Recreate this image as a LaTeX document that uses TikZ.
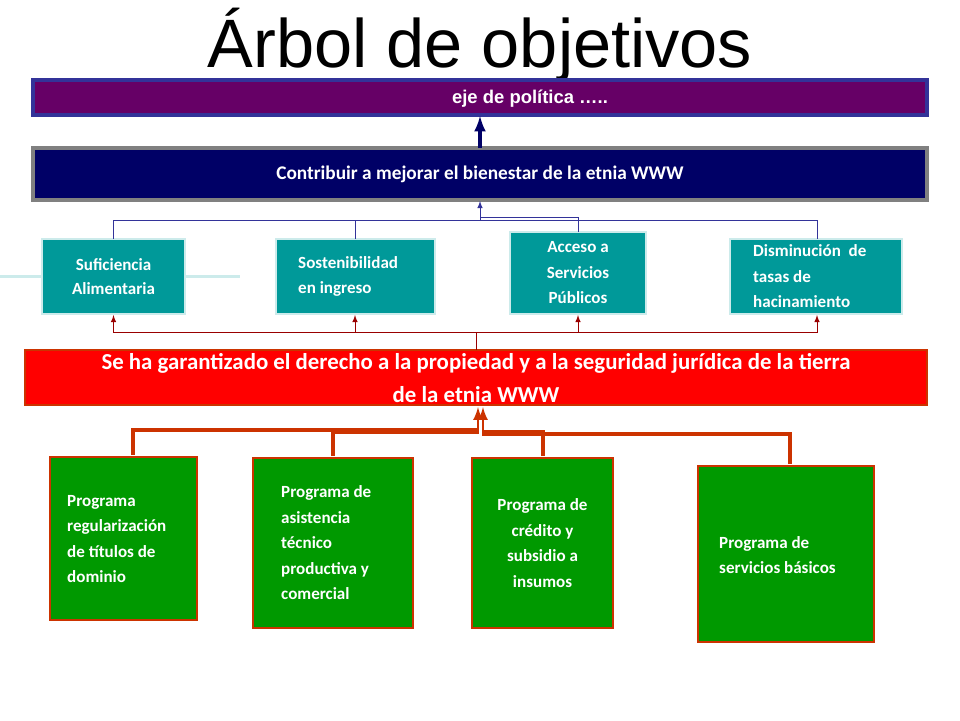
\documentclass[tikz,border=0pt]{standalone}
\usepackage{fontspec}
\setmainfont{Carlito}
\newfontfamily\titlefont{Liberation Sans}
\usetikzlibrary{arrows,positioning,calc}
\definecolor{ejecolor}{HTML}{660066}
\definecolor{fincolor}{HTML}{000066}
\definecolor{medcolor}{HTML}{009999}
\definecolor{propcolor}{HTML}{FF0000}
\definecolor{progcolor}{HTML}{009900}
\definecolor{rojoborde}{HTML}{CC3300}
\definecolor{azullinea}{HTML}{333399}
\definecolor{granate}{HTML}{990000}
\tikzset{
 medio/.style={draw=white!80!medcolor, fill=medcolor, line width=1pt, text=white,
  font=\fontsize{9.7}{14}\selectfont\bfseries, inner sep=0pt},
 programa/.style={draw=rojoborde, fill=progcolor, line width=1.5pt, text=white,
  font=\fontsize{9.7}{14.5}\selectfont\bfseries, inner sep=0pt},
}
\begin{document}
\begin{tikzpicture}[x=0.02cm,y=-0.02cm,>=latex]
\useasboundingbox (0,0) rectangle (960,720);
\node[font=\titlefont\fontsize{39}{44}\selectfont] (titulo) at (480,45) {Árbol de objetivos};
% eje y fin
\draw[fill=ejecolor, draw=azullinea, line width=2pt] (33,80) rectangle (927,115);
\node[text=white, font=\titlefont\fontsize{10.5}{12}\selectfont\bfseries] (eje) at (530,99) {eje de política …..};
\draw[fill=fincolor, draw=gray, line width=2pt] (33,148) rectangle (927,200);
\node[text=white, font=\fontsize{11}{13}\selectfont\bfseries] (fin) at (480,174) {Contribuir a mejorar el bienestar de la etnia WWW};
\draw[->, fincolor, line width=2pt] (480,148) -- (480,116);
% medios
\node[medio, minimum width=143\pgflinewidth] (m1) at (113.5,276.5) {};
\draw[medio] (42,239) rectangle (185,314);
\node[font=\fontsize{9.7}{14}\selectfont\bfseries, text=white, align=center] (t1) at (113.5,276.5) {Suficiencia\\Alimentaria};
\draw[medio] (276,239) rectangle (435,314);
\node[font=\fontsize{9.7}{14}\selectfont\bfseries, text=white, align=left, anchor=west] (t2) at (292,276.5) {Sostenibilidad\\en ingreso};
\draw[medio] (510,232) rectangle (646,314);
\node[font=\fontsize{9.7}{14.5}\selectfont\bfseries, text=white, align=center] (t3) at (578,273) {Acceso a\\Servicios\\Públicos};
\draw[medio] (730,239) rectangle (902,314);
\node[font=\fontsize{9.7}{14.5}\selectfont\bfseries, text=white, align=left, anchor=west] (t4) at (747,276.5) {Disminución~~de\\tasas de\\hacinamiento};
\draw[azullinea, thin] (113.5,239) |- (817,220) -- (817,239);
\draw[azullinea, thin] (355,239) -- (355,220);
\draw[azullinea, thin] (578,232) |- (480,217);
\draw[->, azullinea, thin] (480,220) -- (480,201);
% proposito
\draw[fill=propcolor, draw=rojoborde, line width=1.5pt] (25,350) rectangle (927,405);
\node[text=white, align=center, font=\fontsize{13}{19}\selectfont\bfseries] (prop) at (476,378) {Se ha garantizado el derecho a la propiedad y a la seguridad jurídica de la tierra\\de la etnia WWW};
\draw[granate, thin] (476,350) -- (476,332);
\draw[->, granate, thin] (476,332) -| (113.5,315);
\draw[->, granate, thin] (476,332) -| (817,315);
\draw[->, granate, thin] (476,332) -| (355,315);
\draw[->, granate, thin] (476,332) -| (578,315);
% programas
\draw[programa] (50,457) rectangle (197,620);
\node[font=\fontsize{9.7}{14.5}\selectfont\bfseries, text=white, align=left, anchor=west] (p1) at (61,539) {Programa\\regularización\\de títulos de\\dominio};
\draw[programa] (253,458) rectangle (413,628);
\node[font=\fontsize{9.7}{14.5}\selectfont\bfseries, text=white, align=left, anchor=west] (p2) at (275,543) {Programa de\\asistencia\\técnico\\productiva y\\comercial};
\draw[programa] (472,458) rectangle (613,628);
\node[font=\fontsize{9.7}{14.5}\selectfont\bfseries, text=white, align=center] (p3) at (542.5,543) {Programa de\\crédito y\\subsidio a\\insumos};
\draw[programa] (698,466) rectangle (874,642);
\node[font=\fontsize{9.7}{14.5}\selectfont\bfseries, text=white, align=left, anchor=west] (p4) at (713,555) {Programa de\\servicios básicos};
\draw[rojoborde, line width=2pt] (133,455) |- (478,430);
\draw[rojoborde, line width=2pt] (333,456) |- (478,432);
\draw[rojoborde, line width=2pt] (543,456) |- (482,432);
\draw[rojoborde, line width=2pt] (790,464) |- (482,434);
\draw[->, rojoborde, line width=1.5pt] (478,434) -- (478,407);
\draw[->, rojoborde, line width=1.5pt] (483,434) -- (483,407);
\end{tikzpicture}
\end{document}
